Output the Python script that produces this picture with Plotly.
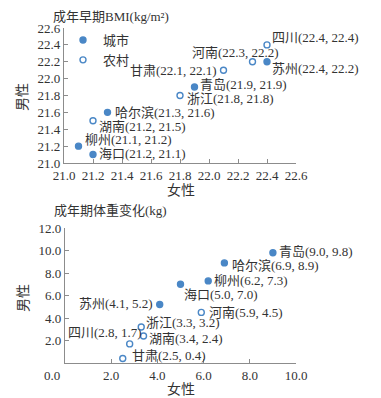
import plotly.graph_objects as go

# ---------------- data ----------------
cities = ["青岛", "哈尔滨", "柳州", "海口", "苏州", "河南", "浙江", "湖南", "四川", "甘肃"]
area = ["城市", "城市", "城市", "城市", "城市", "农村", "农村", "农村", "农村", "农村"]
bmi_female = [21.9, 21.3, 21.1, 21.2, 22.4, 22.3, 21.8, 21.2, 22.4, 22.1]
bmi_male = [21.9, 21.6, 21.2, 21.1, 22.2, 22.2, 21.8, 21.5, 22.4, 22.1]
wt_female = [9.0, 6.9, 6.2, 5.0, 4.1, 5.9, 3.3, 3.4, 2.8, 2.5]
wt_male = [9.8, 8.9, 7.3, 7.0, 5.2, 4.5, 3.2, 2.4, 1.7, 0.4]

bmi_title = "成年早期BMI(kg/m²)"
wt_title = "成年期体重变化(kg)"
x_title = "女性"
y_title = "男性"

bmi_ticks = [21.0, 21.2, 21.4, 21.6, 21.8, 22.0, 22.2, 22.4, 22.6]
wt_xticks = [0, 2, 4, 6, 8, 10]
wt_yticks = [2, 4, 6, 8, 10, 12]

# ---------------- label styling (anchor, xshift, yshift) ----------------
bmi_label_style = {
    "青岛": ("left", 4, 3), "哈尔滨": ("left", 6, 0), "柳州": ("left", 5, 7),
    "海口": ("left", 5, 1), "苏州": ("left", 4, -7), "河南": ("right", 27, 9),
    "浙江": ("left", 6, -3), "湖南": ("left", 5, -6), "四川": ("left", 4, 7),
    "甘肃": ("right", -6, 0),
}
wt_label_style = {
    "青岛": ("left", 5, 1), "哈尔滨": ("left", 7, -3), "柳州": ("left", 5, 0),
    "海口": ("left", 2, -10), "苏州": ("right", -6, 1), "河南": ("left", 7, 0),
    "浙江": ("left", 4, 5), "湖南": ("left", 4, -2), "四川": ("right", 13, 11),
    "甘肃": ("left", 8, 3),
}

FONT = "Liberation Serif, Noto Sans CJK SC, serif"
TXT = "#333333"
BLUE = "#4a87c6"
AXC = "#8c8c8c"

fig = go.Figure()

groups = [("城市", "circle", BLUE), ("农村", "circle-open", BLUE)]
for g, sym, col in groups:
    idx = [i for i, a in enumerate(area) if a == g]
    fig.add_trace(go.Scatter(
        x=[bmi_female[i] for i in idx], y=[bmi_male[i] for i in idx],
        mode="markers", name=g, xaxis="x", yaxis="y",
        marker=dict(symbol=sym, size=6, color=col, line=dict(color=col, width=1.4)),
        showlegend=True, cliponaxis=False,
    ))
    fig.add_trace(go.Scatter(
        x=[wt_female[i] for i in idx], y=[wt_male[i] for i in idx],
        mode="markers", name=g, xaxis="x2", yaxis="y2",
        marker=dict(symbol=sym, size=6, color=col, line=dict(color=col, width=1.4)),
        showlegend=False, cliponaxis=False,
    ))

annotations = []
for i, c in enumerate(cities):
    anc, dx, dy = bmi_label_style[c]
    annotations.append(dict(
        x=bmi_female[i], y=bmi_male[i], xref="x", yref="y",
        text=f"{c}({bmi_female[i]:.1f}, {bmi_male[i]:.1f})",
        showarrow=False, xanchor=anc, yanchor="middle", xshift=dx, yshift=dy,
        font=dict(family=FONT, size=13, color=TXT), borderpad=0,
    ))
    anc, dx, dy = wt_label_style[c]
    annotations.append(dict(
        x=wt_female[i], y=wt_male[i], xref="x2", yref="y2",
        text=f"{c}({wt_female[i]:.1f}, {wt_male[i]:.1f})",
        showarrow=False, xanchor=anc, yanchor="middle", xshift=dx, yshift=dy,
        font=dict(family=FONT, size=13, color=TXT), borderpad=0,
    ))

# page body has an 8px default margin: size figure to fit the 381x398 window
OFF = 8
W, H = 381 - OFF, 398 - OFF


def px(xp):
    return (xp - OFF) / W


def py(yp):
    return 1 - (yp - OFF) / H


# titles
annotations += [
    dict(text=bmi_title, x=px(52), y=py(8), xref="paper", yref="paper",
         xanchor="left", yanchor="top", showarrow=False, borderpad=0,
         font=dict(family=FONT, size=13, color=TXT)),
    dict(text=wt_title, x=px(52), y=py(210), xref="paper", yref="paper",
         xanchor="left", yanchor="middle", showarrow=False,
         font=dict(family=FONT, size=13, color=TXT)),
    dict(text=x_title, x=px(181), y=py(190), xref="paper", yref="paper",
         xanchor="center", yanchor="middle", showarrow=False,
         font=dict(family=FONT, size=14, color=TXT)),
    dict(text=x_title, x=px(181), y=py(389), xref="paper", yref="paper",
         xanchor="center", yanchor="middle", showarrow=False,
         font=dict(family=FONT, size=14, color=TXT)),
    dict(text=y_title, x=px(23), y=py(97), xref="paper", yref="paper",
         xanchor="center", yanchor="middle", showarrow=False, textangle=-90,
         font=dict(family=FONT, size=14, color=TXT)),
    dict(text=y_title, x=px(23), y=py(298), xref="paper", yref="paper",
         xanchor="center", yanchor="middle", showarrow=False, textangle=-90,
         font=dict(family=FONT, size=14, color=TXT)),
]

axis_common = dict(
    showline=True, linecolor=AXC, linewidth=1.3, ticks="inside", ticklen=4,
    tickcolor=AXC, tickwidth=1.2, showgrid=False, zeroline=False,
    tickfont=dict(family=FONT, size=13, color=TXT), fixedrange=True,
    automargin=False,
)

wt_xtext = [("0.0" + "\u00a0" * 8) if v == 0 else f"{v:.1f}" for v in wt_xticks]

fig.update_layout(
    template="none",
    width=W, height=H,
    margin=dict(l=0, r=0, t=0, b=0, pad=0),
    paper_bgcolor="white", plot_bgcolor="white",
    font=dict(family=FONT, size=13, color=TXT),
    xaxis=dict(domain=[px(64), px(296)], range=[21.0, 22.6], anchor="y",
               tickvals=bmi_ticks, ticktext=[f"{v:.1f}" for v in bmi_ticks],
               **axis_common),
    yaxis=dict(domain=[py(163), py(28)], range=[21.0, 22.6], anchor="x",
               tickvals=bmi_ticks, ticktext=[f"{v:.1f}" for v in bmi_ticks],
               **axis_common),
    xaxis2=dict(domain=[px(65), px(296)], range=[0, 10], anchor="y2",
                tickvals=wt_xticks, ticktext=wt_xtext, **axis_common),
    yaxis2=dict(domain=[py(363), py(228)], range=[0, 12], anchor="x2",
                tickvals=wt_yticks, ticktext=[f"{v:.1f}" for v in wt_yticks],
                **axis_common),
    legend=dict(x=px(63), y=py(25), xanchor="left", yanchor="top",
                bgcolor="rgba(0,0,0,0)", borderwidth=0,
                font=dict(family=FONT, size=13, color=TXT),
                itemwidth=30, tracegroupgap=0),
    annotations=annotations,
    showlegend=True,
)

fig.write_html("out.html")
